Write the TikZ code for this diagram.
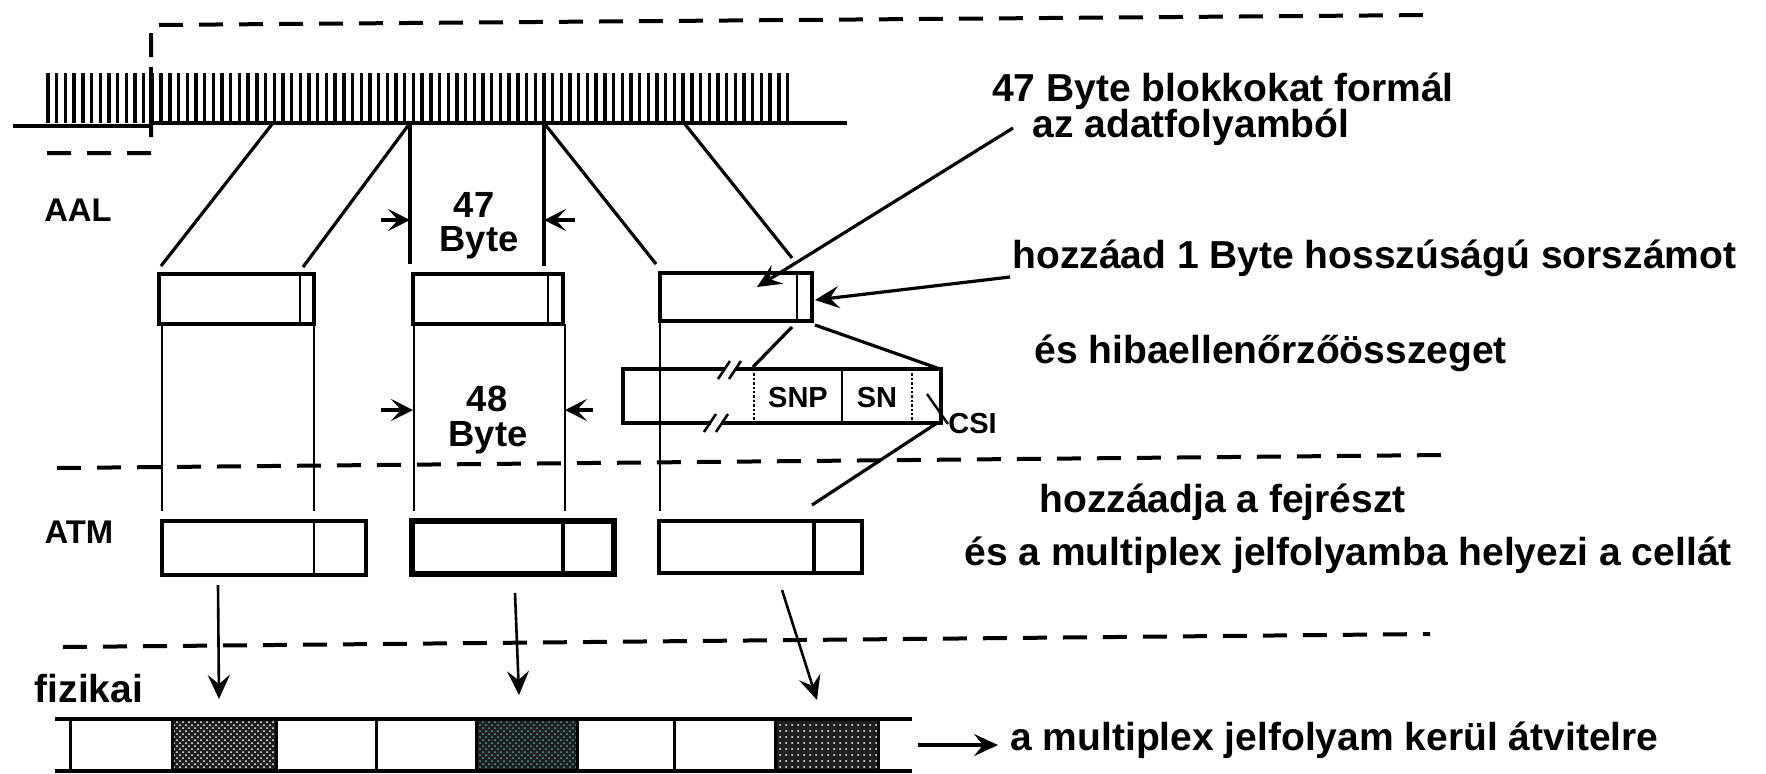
\documentclass[tikz,border=0pt]{standalone}
\usepackage{fontspec}
\setmainfont{Liberation Sans}
\usetikzlibrary{arrows.meta,patterns}
\begin{document}
\begin{tikzpicture}[x=0.5pt,y=-0.5pt,
  dline/.style={line width=2pt, dash pattern=on 12pt off 8pt},
  ln/.style={line width=1.6pt},
  blk/.style={line width=2.3pt},
  dv/.style={line width=1.1pt},
  big/.style={font=\bfseries\fontsize{19.5}{22}\selectfont, inner sep=0pt},
  mid/.style={font=\bfseries\fontsize{18.2}{20}\selectfont, inner sep=0pt},
  lay/.style={font=\bfseries\fontsize{16.4}{18}\selectfont, inner sep=0pt},
  sm/.style={font=\bfseries\fontsize{14.5}{16}\selectfont, inner sep=0pt},
  tip/.style={-{Stealth[length=12pt,width=11pt,inset=4.5pt]}},
  dtip/.style={-{Stealth[length=11pt,width=11pt,inset=5pt]}},
  pat/.style={pattern=crosshatch dots, pattern color=white}
]
\useasboundingbox[fill=white] (0,0) rectangle (1766,773);

% ---------- top data stream ----------
\draw[line width=1.8pt] (13,126) -- (151,126);
\draw[line width=1.8pt] (151,123) -- (847,123);
\foreach \i in {0,...,85} {
  \draw[line width=1.7pt] ({48+8.7*\i},73) -- ({48+8.7*\i},123);
}
\draw[line width=2.2pt] (151,67) -- (151,128);

% ---------- layer separators ----------
\draw[dline] (47,153) -- (151,153) -- (151,25) -- (1431,15);
\draw[dline] (57,468) -- (1444,455);
\draw[dline] (63,647) -- (1430,634);

% ---------- layer names ----------
\node[lay, anchor=base] (aal) at (78,221) {AAL};
\node[lay, anchor=base] (atm) at (79,543) {ATM};
\node[big, anchor=base] (fiz) at (89,702) {fizikai};

% ---------- stream split points ----------
\coordinate (s1) at (273,123);
\coordinate (s2) at (410,123);
\coordinate (s3) at (544,123);
\coordinate (s4) at (684,123);

% ---------- AAL blocks ----------
\draw[blk] (159,274) rectangle (314,324);
\draw[dv] (300,274) -- (300,324);
\draw[blk] (413,274) rectangle (563,324);
\draw[dv] (548,274) -- (548,324);
\draw[blk] (660,273) rectangle (812,321);
\draw[dv] (797,273) -- (797,321);

\coordinate (b1l) at (161,266);
\coordinate (b1r) at (303,267);
\coordinate (b2l) at (410,264);
\coordinate (b2r) at (544,266);
\coordinate (b3l) at (656,264);
\coordinate (b3r) at (792,258);
\draw[ln] (s1) -- (b1l);
\draw[ln] (s2) -- (b1r);
\draw[ln] (s2) -- (b2l);
\draw[ln] (s3) -- (b2r);
\draw[ln] (s3) -- (b3l);
\draw[ln] (s4) -- (b3r);

% 47 Byte dimension
\coordinate (d1a) at (381,220);
\coordinate (d1b) at (410,220);
\coordinate (d1c) at (575,220);
\coordinate (d1d) at (544,220);
\draw[ln,dtip] (d1a) -- (d1b);
\draw[ln,dtip] (d1c) -- (d1d);
\node[mid, anchor=base] (n47) at (474,217) {47};
\node[mid, anchor=base] (by1) at (479,251) {Byte};

% verticals down to ATM
\foreach \x/\t in {162/324,314/324,414/324,565/324,660/321} {
  \draw[line width=1.1pt] (\x,\t) -- (\x,511);
}

% 48 Byte dimension
\coordinate (d2a) at (381,410);
\coordinate (d2b) at (413,410);
\coordinate (d2c) at (593,410);
\coordinate (d2d) at (565,410);
\draw[ln,dtip] (d2a) -- (d2b);
\draw[ln,dtip] (d2c) -- (d2d);
\node[mid, anchor=base] (n48) at (487,411) {48};
\node[mid, anchor=base] (by2) at (488,446) {Byte};

% ---------- SNP / SN / CSI expansion ----------
\draw[line width=1.9pt] (623,369) rectangle (941,423);
\draw[line width=1.2pt, densely dotted] (754,369) -- (754,423);
\draw[line width=1.1pt] (842,369) -- (842,423);
\draw[line width=1.2pt, densely dotted] (912,369) -- (912,423);
\fill[white] (725,364) rectangle (735,374);
\fill[white] (711,418) rectangle (722,428);
\draw[line width=1.3pt] (718,379) -- (730,361);
\draw[line width=1.3pt] (729,379) -- (741,361);
\draw[line width=1.3pt] (704,432) -- (716,414);
\draw[line width=1.3pt] (716,432) -- (728,414);
\node[sm] (snp) at (798,398) {SNP};
\node[sm] (sn) at (877,398) {SN};
\node[sm, anchor=west] (csi) at (948,424) {CSI};
\coordinate (csip) at (927,394);
\draw[line width=1.2pt] (csip) -- (csi.west);
\coordinate (e1a) at (792,327);
\coordinate (e1b) at (753,367);
\coordinate (e2a) at (815,325);
\coordinate (e2b) at (940,369);
\draw[ln] (e1a) -- (e1b);
\draw[ln] (e2a) -- (e2b);
\coordinate (e3a) at (937,423);
\coordinate (e3b) at (812,505);
\draw[ln] (e3a) -- (e3b);

% ---------- ATM cells ----------
\draw[blk] (162,521) rectangle (366,575);
\draw[dv] (314,521) -- (314,575);
\draw[line width=2.8pt] (412,521) rectangle (614,574);
\draw[line width=1.6pt] (563,521) -- (563,574);
\draw[blk] (659,521) rectangle (862,573);
\draw[line width=1.6pt] (814,521) -- (814,573);

% arrows to physical layer
\coordinate (p1a) at (218,585);
\coordinate (p1b) at (219,699);
\coordinate (p2a) at (515,593);
\coordinate (p2b) at (519,695);
\coordinate (p3a) at (782,590);
\coordinate (p3b) at (817,700);
\draw[line width=1.3pt,tip] (p1a) -- (p1b);
\draw[line width=1.3pt,tip] (p2a) -- (p2b);
\draw[line width=1.3pt,tip] (p3a) -- (p3b);

% ---------- physical multiplex stream ----------
\fill[black!88] (172,719) rectangle (276,771);
\fill[pat] (172,719) rectangle (276,771);
\fill[black!88] (476,719) rectangle (577,771);
\fill[pattern=crosshatch dots, pattern color=teal!70!white] (476,719) rectangle (577,771);
\fill[black!88] (775,719) rectangle (878,771);
\fill[pattern=dots, pattern color=white] (775,719) rectangle (878,771);
\draw[line width=1.6pt] (55,719) -- (912,719);
\draw[line width=2pt] (55,771) -- (912,771);
\foreach \x in {70,172,276,376,476,577,674,775,878} {
  \draw[line width=1.5pt] (\x,719) -- (\x,771);
}
\coordinate (ra) at (918,745);
\coordinate (rb) at (998,745);
\draw[line width=1.6pt,tip] (ra) -- (rb);

% ---------- explanations ----------
\node[big, anchor=base] (t1) at (1223,101) {47 Byte blokkokat formál};
\node[big, anchor=base] (t2) at (1191,137) {az adatfolyamból};
\node[big, anchor=base west] (t3) at (1012,268) {hozzáad 1 Byte hosszúságú sorszámot};
\node[big, anchor=base west] (t4) at (1034,363) {és hibaellenőrzőösszeget};
\node[big, anchor=base west] (t5) at (1039,512) {hozzáadja a fejrészt};
\node[big, anchor=base west] (t6) at (964,565) {és a multiplex jelfolyamba helyezi a cellát};
\node[big, anchor=base west] (t7) at (1010,750) {a multiplex jelfolyam kerül átvitelre};

\coordinate (l1a) at (1013,128);
\coordinate (l1b) at (757,287);
\draw[ln,tip] (l1a) -- (l1b);
\coordinate (l2a) at (1010,277);
\coordinate (l2b) at (815,300);
\draw[ln,tip] (l2a) -- (l2b);
\end{tikzpicture}
\end{document}
